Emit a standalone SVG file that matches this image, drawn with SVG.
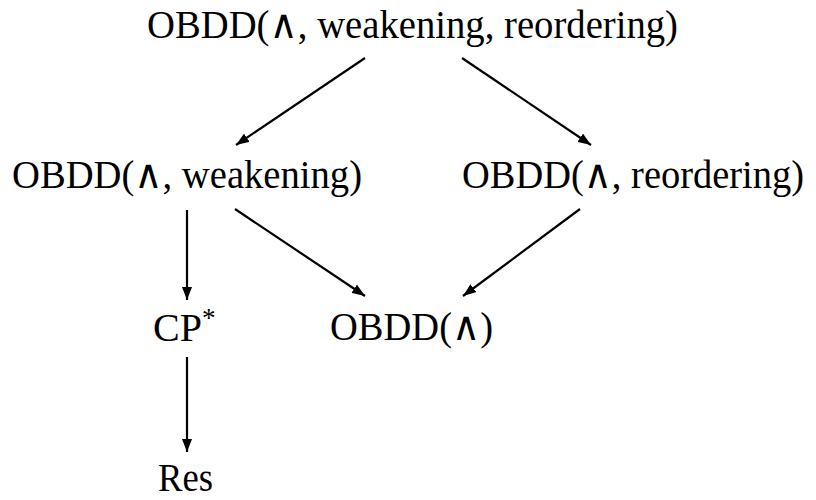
<svg xmlns="http://www.w3.org/2000/svg" width="816" height="500" viewBox="0 0 816 500">
<style>
text{font-family:"Liberation Serif","DejaVu Serif",serif;font-size:40px;fill:#000}
.e{stroke:#000;stroke-width:2.2;fill:none}
</style>
<defs>
<marker id="ah" viewBox="0 0 13 10" refX="13" refY="5" markerWidth="13" markerHeight="10" markerUnits="userSpaceOnUse" orient="auto">
<path d="M0,0 L13,5 L0,10 Z" fill="#000"/>
</marker>
</defs>
<rect width="816" height="500" fill="#fff"/>
<g id="connectors">
<line class="e" x1="365" y1="58" x2="236" y2="145" marker-end="url(#ah)"/>
<line class="e" x1="462" y1="58" x2="591" y2="145" marker-end="url(#ah)"/>
<line class="e" x1="187" y1="210" x2="187" y2="300" marker-end="url(#ah)"/>
<line class="e" x1="235" y1="209" x2="365" y2="296" marker-end="url(#ah)"/>
<line class="e" x1="580" y1="209" x2="463" y2="296" marker-end="url(#ah)"/>
<line class="e" x1="187" y1="357" x2="187" y2="452" marker-end="url(#ah)"/>
</g>
<g id="n-top"><text x="147" y="38" textLength="531" lengthAdjust="spacingAndGlyphs">OBDD(∧, weakening, reordering)</text></g>
<g id="n-weak"><text x="12" y="188" textLength="350" lengthAdjust="spacingAndGlyphs">OBDD(∧, weakening)</text></g>
<g id="n-reord"><text x="804" y="188" text-anchor="end" font-size="37.5" textLength="342" lengthAdjust="spacingAndGlyphs">OBDD(∧, reordering)</text></g>
<g id="n-cp"><text x="153" y="341">CP<tspan dy="-14" font-size="27">*</tspan></text></g>
<g id="n-and"><text x="330" y="340" textLength="163" lengthAdjust="spacingAndGlyphs">OBDD(∧)</text></g>
<g id="n-res"><text x="158" y="491" textLength="55" lengthAdjust="spacingAndGlyphs">Res</text></g>
</svg>
